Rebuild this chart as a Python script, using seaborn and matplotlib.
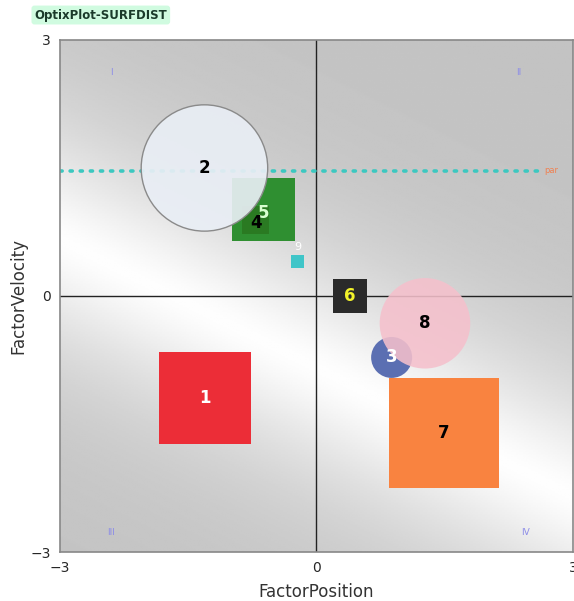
import numpy as np
import pandas as pd
import matplotlib
matplotlib.use('Agg')
import matplotlib.pyplot as plt
import matplotlib.patches as mpatches
import seaborn as sns

# bubble data
ids = ['1', '2', '3', '4', '5', '6', '7', '8', '9']
pos_x = [-1.30, -1.31, 0.88, -0.71, -0.62, 0.39, 1.49, 1.27, -0.22]
pos_y = [-1.20, 1.50, -0.72, 0.89, 1.01, 0.00, -1.61, -0.32, 0.40]
sizes = [1.08, 1.48, 0.48, 0.32, 0.74, 0.40, 1.29, 1.06, 0.15]
shapes = ['square', 'circle', 'circle', 'square', 'square', 'square', 'square', 'circle', 'square']
fills = ['#ec2d37', '#e9eef5', '#5b6fb2', '#2a7a22', '#2f8f31', '#2a2a2a', '#f98340', '#f5c0cc', '#3fc5c8']
label_colors = ['white', 'black', 'white', 'black', '#d8ffd0', '#f2f22a', 'black', 'black', 'white']
par_value = 1.47
quadrants = ['I', 'II', 'III', 'IV']
quad_x = [-2.4, 2.37, -2.4, 2.45]
quad_y = [2.62, 2.62, -2.77, -2.77]

df = pd.DataFrame({'id': ids, 'x': pos_x, 'y': pos_y, 'size': sizes,
                   'shape': shapes, 'fill': fills, 'label': label_colors})

sns.set_style('white')
fig = plt.figure(figsize=(5.74, 6.01), dpi=100)
ax = fig.add_axes([0.1045, 0.0815, 0.8935, 0.852])

# shaded background: soft light band along a falling diagonal
gx, gy = np.meshgrid(np.linspace(-3, 3, 300), np.linspace(-3, 3, 300))
d = np.abs(gy + 0.5 * gx + 0.85) / np.sqrt(1 + 0.5 ** 2)
shade = 0.765 + 0.23 * np.exp(-(d / 1.25) ** 1.5)
ax.imshow(shade, extent=[-3, 3, -3, 3], origin='lower', cmap='gray',
          vmin=0, vmax=1, aspect='auto', zorder=0)

ax.axhline(0, color='#222222', lw=1.0, zorder=1)
ax.axvline(0, color='#222222', lw=1.0, zorder=1)

# par reference line
par_df = pd.DataFrame({'x': [-3, 2.6], 'y': [par_value, par_value]})
sns.lineplot(data=par_df, x='x', y='y', ax=ax, color='#3cc8c0', lw=2.6,
             linestyle=(0, (0.6, 2.2)), dash_capstyle='round', zorder=2)
ax.text(2.75, par_value, 'par', color='#f08050', fontsize=6, va='center', ha='center')

for q, qx, qy in zip(quadrants, quad_x, quad_y):
    ax.text(qx, qy, q, color='#8c8ce8', fontsize=6.5, ha='center', va='center')

order = [0, 6, 2, 7, 4, 3, 1, 5, 8]
alphas = {'2': 0.92, '8': 0.88}
for i in order:
    r = df.iloc[i]
    if r['shape'] == 'circle':
        p = mpatches.Circle((r['x'], r['y']), r['size'] / 2, facecolor=r['fill'],
                            edgecolor='none', alpha=alphas.get(r['id'], 1.0), zorder=3)
    else:
        s = r['size']
        p = mpatches.Rectangle((r['x'] - s / 2, r['y'] - s / 2), s, s,
                               facecolor=r['fill'], edgecolor='none', zorder=3)
    ax.add_patch(p)
    if r['id'] == '2':
        ax.add_patch(mpatches.Circle((r['x'], r['y']), r['size'] / 2, facecolor='none',
                                     edgecolor='#8a8a8a', lw=1.0, zorder=4))

for i in order:
    r = df.iloc[i]
    if r['id'] == '9':
        ax.text(r['x'], r['y'] + 0.17, r['id'], color='white', fontsize=8,
                ha='center', va='center', zorder=5)
        continue
    tx, ty = r['x'], r['y']
    if r['id'] == '5':
        tx, ty = -0.62, 0.97
    if r['id'] == '4':
        tx, ty = -0.71, 0.85
    ax.text(tx, ty, r['id'], color=r['label'], fontsize=12, fontweight='bold',
            ha='center', va='center', zorder=5)

ax.set_xlim(-3, 3)
ax.set_ylim(-3, 3)
ax.set_xticks([-3, 0, 3])
ax.set_yticks([-3, 0, 3])
ax.tick_params(axis='both', labelsize=10, length=3, color='#888888')
ax.set_xlabel('FactorPosition', fontsize=12, color='#333333', labelpad=6)
ax.set_ylabel('FactorVelocity', fontsize=12, color='#333333', labelpad=2)
for sp in ax.spines.values():
    sp.set_color('#888888')
    sp.set_linewidth(1.2)

fig.text(0.06, 0.975, 'OptixPlot-SURFDIST', fontsize=8.5, fontweight='bold',
         color='#1a3a2a', ha='left', va='center',
         bbox=dict(boxstyle='round,pad=0.25', facecolor='#d0fbe0', edgecolor='none'))

fig.savefig('out.png', dpi=100)
